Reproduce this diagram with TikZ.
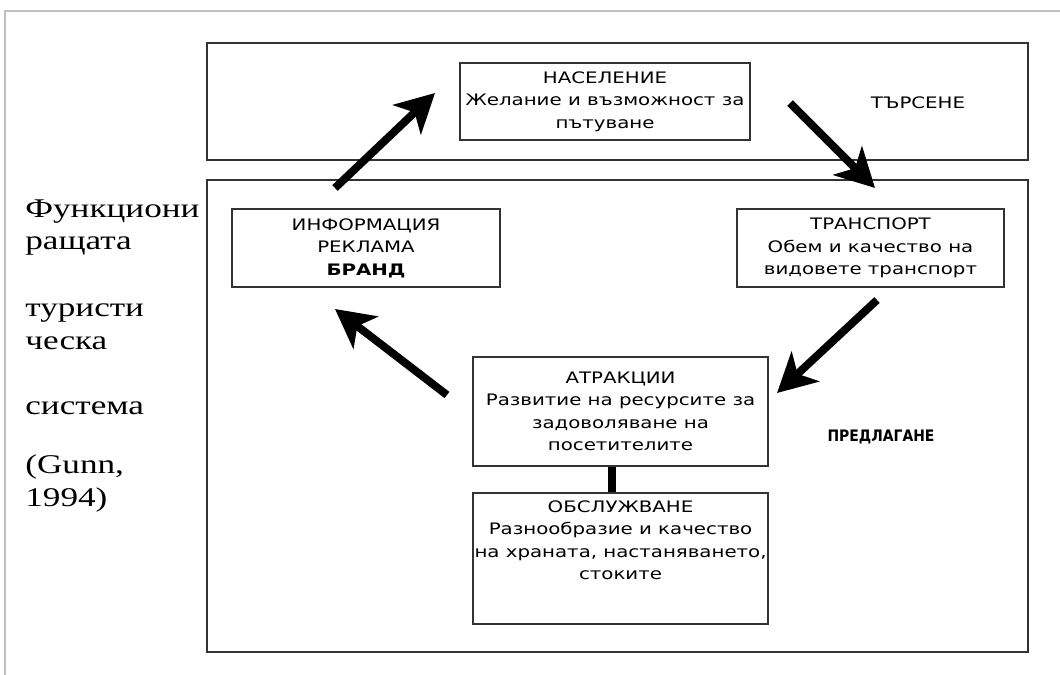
\documentclass[tikz,border=0pt]{standalone}
\usepackage{fontspec}
\usetikzlibrary{arrows.meta}
\newfontfamily\boxfont{DejaVu Sans}[FakeStretch=1.25]
\newfontfamily\predfont{DejaVu Sans}[FakeStretch=0.88]
\newfontfamily\sidefont{Liberation Serif}[FakeStretch=1.3]
\begin{document}
\begin{tikzpicture}[x=0.02cm,y=-0.02cm,
  box/.style={draw=black!80, line width=1.1pt, inner sep=0pt},
  txt/.style={font=\boxfont\fontsize{9}{12.8}\selectfont, align=center, inner sep=0pt},
  side/.style={font=\sidefont\fontsize{15.4}{19}\selectfont, anchor=base west, inner sep=0pt},
  bigarrow/.style={line width=4.5pt, -{Stealth[length=22pt,width=23pt,inset=6pt]}},
  link/.style={line width=4.5pt}
]
\useasboundingbox (0,0) rectangle (1060,675);
\draw[black!25, line width=1pt] (5,675) -- (5,11) -- (1060,11);

% big frames
\node[box, minimum width=16.42cm, minimum height=2.34cm] (demand) at (617.5,101.5) {};
\node[box, minimum width=16.42cm, minimum height=9.44cm] (supply) at (617.5,416) {};

% boxes
\node[box, txt, minimum width=5.8cm, minimum height=1.54cm] (nas) at (605,101.5)
  {НАСЕЛЕНИЕ\\Желание и възможност за\\пътуване};
\node[box, txt, minimum width=5.36cm, minimum height=1.56cm] (inf) at (366,248)
  {ИНФОРМАЦИЯ\\РЕКЛАМА\\\textbf{БРАНД}};
\node[box, txt, minimum width=5.34cm, minimum height=1.56cm] (tr) at (870.5,248)
  {ТРАНСПОРТ\\Обем и качество на\\видовете транспорт};
\node[box, txt, minimum width=5.9cm, minimum height=2.18cm] (atr) at (620.5,411.5)
  {АТРАКЦИИ\\Развитие на ресурсите за\\задоволяване на\\посетителите};
\node[box, minimum width=5.9cm, minimum height=2.62cm] (obs) at (620.5,558.5) {};
\node[txt, anchor=north] (obstxt) at ([yshift=-0.16cm]obs.north)
  {ОБСЛУЖВАНЕ\\Разнообразие и качество\\на храната, настаняването,\\стоките};

\draw[link] ([xshift=-0.17cm]atr.south) -- ([xshift=-0.17cm]obs.north);

% labels
\node[txt] (tars) at (918,103) {ТЪРСЕНЕ};
\node[txt, font=\predfont\bfseries\fontsize{9}{12.8}\selectfont] (pred) at (881,437) {ПРЕДЛАГАНЕ};

% side text
\node[side] (s1) at (25,218) {Функциони};
\node[side] (s2) at (25,250) {ращата};
\node[side] (s3) at (25,316) {туристи};
\node[side] (s4) at (25,349) {ческа};
\node[side] (s5) at (25,414) {система};
\node[side] (s6) at (25,473) {(Gunn,};
\node[side] (s7) at (25,506) {1994)};

% arrows
\coordinate (a1s) at (335,188); \coordinate (a1e) at (435,93);
\coordinate (a2s) at (790,103); \coordinate (a2e) at (875,188);
\coordinate (a3s) at (877,300); \coordinate (a3e) at (777,393);
\coordinate (a4s) at (447,395); \coordinate (a4e) at (335,309);
\draw[bigarrow] (a1s) -- (a1e);
\draw[bigarrow] (a2s) -- (a2e);
\draw[bigarrow] (a3s) -- (a3e);
\draw[bigarrow] (a4s) -- (a4e);
\end{tikzpicture}
\end{document}
